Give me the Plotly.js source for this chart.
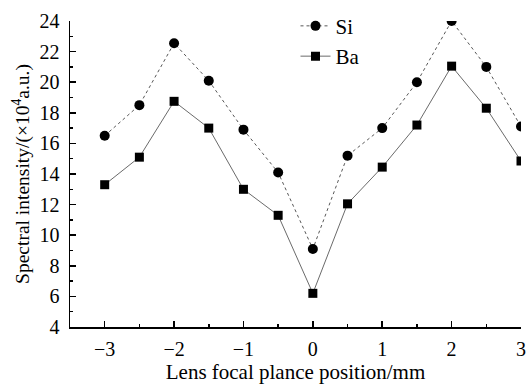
<!DOCTYPE html>
<html>
<head>
<meta charset="utf-8">
<script src="https://cdn.plot.ly/plotly-3.0.1.min.js"></script>
<style>html,body{margin:0;padding:0;background:#fff;}#chart{width:527px;height:391px;}</style>
</head>
<body>
<div id="chart"></div>
<script>
const positions = [-3, -2.5, -2, -1.5, -1, -0.5, 0, 0.5, 1, 1.5, 2, 2.5, 3];
const siValues = [16.5, 18.5, 22.55, 20.1, 16.9, 14.1, 9.1, 15.2, 17.0, 20.0, 24.0, 21.0, 17.1];
const baValues = [13.3, 15.1, 18.75, 17.0, 13.0, 11.3, 6.2, 12.05, 14.45, 17.2, 21.05, 18.3, 14.85];
const seriesNames = ["Si", "Ba"];
const xTickVals = [-3, -2, -1, 0, 1, 2, 3];
const yTickVals = [4, 6, 8, 10, 12, 14, 16, 18, 20, 22, 24];

const fontFamily = 'Liberation Serif, Times New Roman, serif';

const traces = [
  {
    x: positions, y: siValues, name: seriesNames[0], type: 'scatter', mode: 'lines+markers',
    line: {color: '#444', width: 0.9, dash: 'dot'},
    marker: {symbol: 'circle', size: 10, color: '#000'}
  },
  {
    x: positions, y: baValues, name: seriesNames[1], type: 'scatter', mode: 'lines+markers',
    line: {color: '#444', width: 0.8, dash: 'solid'},
    marker: {symbol: 'square', size: 9, color: '#000'}
  }
];

const layout = {
  width: 527, height: 391,
  margin: {l: 70, r: 6, t: 16, b: 64},
  paper_bgcolor: '#fff', plot_bgcolor: '#fff',
  font: {family: fontFamily, size: 19, color: '#000'},
  showlegend: true,
  legend: {
    x: 0.50, y: 1.05, xanchor: 'left', yanchor: 'top',
    bgcolor: 'rgba(0,0,0,0)', borderwidth: 0,
    font: {family: fontFamily, size: 21, color: '#000'},
    itemwidth: 30, tracegroupgap: 0
  },
  xaxis: {
    range: [-3.5, 3], tickvals: xTickVals,
    showline: true, linecolor: '#000', linewidth: 1.5,
    ticks: 'inside', ticklen: 6, tickwidth: 1.5, tickcolor: '#000',
    minor: {dtick: 0.5, ticks: 'inside', ticklen: 3, tickwidth: 1.5, tickcolor: '#000'},
    showgrid: false, zeroline: false, mirror: false,
    ticklabelstandoff: 3,
    tickfont: {family: fontFamily, size: 20, color: '#000'},
    title: {text: 'Lens focal plance position/mm', font: {family: fontFamily, size: 21, color: '#000'}, standoff: 6}
  },
  yaxis: {
    range: [4, 24], tickvals: yTickVals,
    showline: true, linecolor: '#000', linewidth: 1.5,
    ticks: 'inside', ticklen: 6, tickwidth: 1.5, tickcolor: '#000',
    minor: {dtick: 1, ticks: 'inside', ticklen: 3, tickwidth: 1.5, tickcolor: '#000'},
    showgrid: false, zeroline: false, mirror: false,
    ticklabelstandoff: 5,
    tickfont: {family: fontFamily, size: 20, color: '#000'},
    title: {text: 'Spectral intensity/(×10<sup>4</sup>a.u.)', font: {family: fontFamily, size: 19.5, color: '#000'}, standoff: 4}
  }
};

Plotly.newPlot('chart', traces, layout, {displayModeBar: false, staticPlot: true});
</script>
</body>
</html>
